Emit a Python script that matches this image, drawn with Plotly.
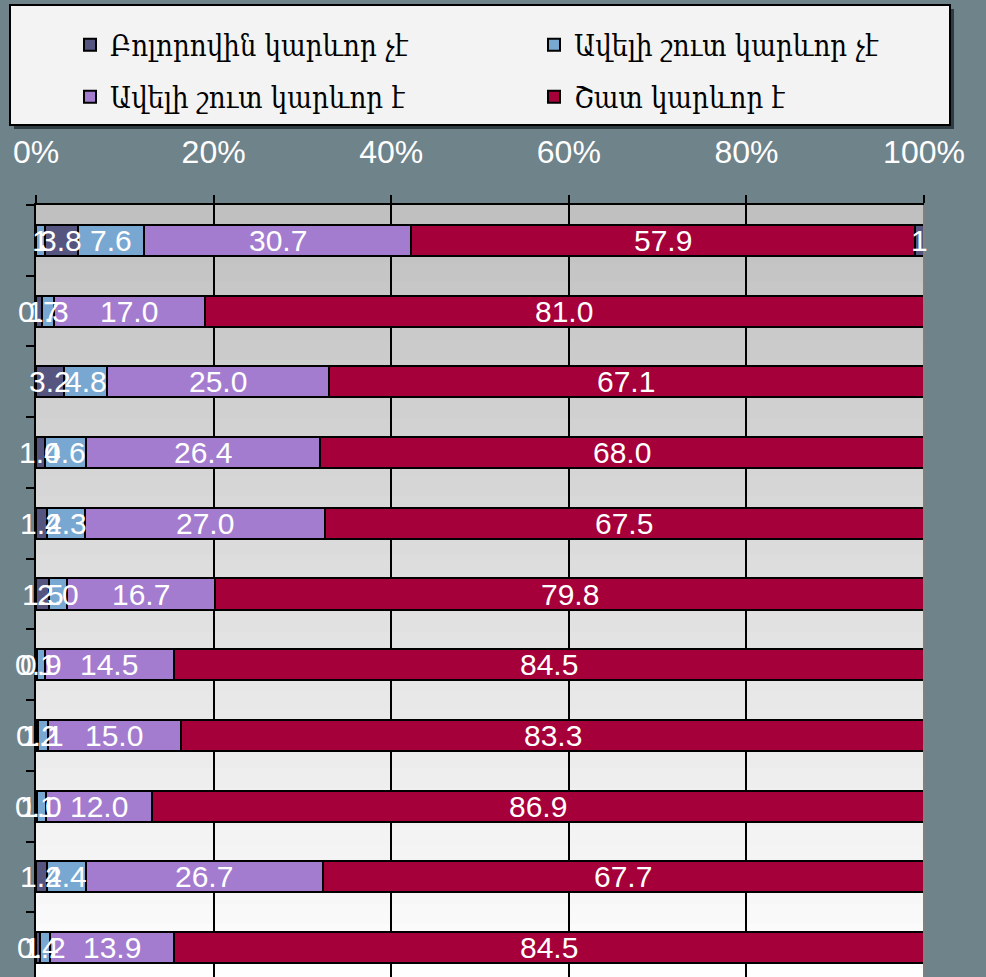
import plotly.graph_objects as go

# rows top -> bottom (category names are cut off in the source image)
categories = ["1", "2", "3", "4", "5", "6", "7", "8", "9", "10", "11"]

series_names = ["Բոլորովին կարևոր չէ", "Ավելի շուտ կարևոր չէ",
                "Ավելի շուտ կարևոր է", "Շատ կարևոր է"]

not_at_all = [3.8, 0.7, 3.2, 1.0, 1.2, 1.5, 0.1, 0.2, 0.1, 1.2, 0.4]
rather_not = [7.6, 1.3, 4.8, 4.6, 4.3, 2.0, 0.9, 1.1, 1.0, 4.4, 1.2]
rather_yes = [30.7, 17.0, 25.0, 26.4, 27.0, 16.7, 14.5, 15.0, 12.0, 26.7, 13.9]
very = [57.9, 81.0, 67.1, 68.0, 67.5, 79.8, 84.5, 83.3, 86.9, 67.7, 84.5]

# small extra segments only present in the first row
extra_first = [1, 0, 0, 0, 0, 0, 0, 0, 0, 0, 0]
extra_last = [1, 0, 0, 0, 0, 0, 0, 0, 0, 0, 0]

x_ticks = [0, 20, 40, 60, 80, 100]
x_tick_labels = ["0%", "20%", "40%", "60%", "80%", "100%"]

NAVY = "#55557f"
LIGHT_BLUE = "#78a8d2"
PURPLE = "#a47ccf"
RED = "#a5003a"
BG = "#6f838b"

# the plot runs a little past the bottom of the 977px window, as in the source
W, H = 986, 983
L, T, R, B = 36, 205, 62, 0


def px_x(p):
    return (p - L) / (W - L - R)


def px_y(p):
    return 1 + (T - p) / (H - T - B)


# stacking order left -> right, with the label format of each piece
stack = [
    (extra_first, LIGHT_BLUE, "", None, "{:.0f}"),
    (not_at_all, NAVY, series_names[0], "legend", "{:.1f}"),
    (rather_not, LIGHT_BLUE, series_names[1], "legend2", "{:.1f}"),
    (rather_yes, PURPLE, series_names[2], "legend3", "{:.1f}"),
    (very, RED, series_names[3], "legend4", "{:.1f}"),
    (extra_last, NAVY, "", None, "{:.0f}"),
]

fig = go.Figure()
for vals, color, name, leg, _ in stack:
    fig.add_trace(go.Bar(
        y=categories, x=vals, orientation="h", name=name,
        marker=dict(color=color, line=dict(color="black", width=2)),
        legend=leg or "legend", showlegend=leg is not None,
        hoverinfo="x+name",
    ))

# value labels on top of every segment (Excel draws them over the bars);
# y is given as the category index
annotations = []
for i in range(len(categories)):
    total = sum(s[0][i] for s in stack)
    cum = 0
    for vals, _, _, _, fmt in stack:
        v = vals[i]
        if v:
            annotations.append(dict(
                x=(cum + v / 2) / total * 100, y=i, xref="x", yref="y",
                text=fmt.format(v), showarrow=False,
                font=dict(family="Liberation Sans, Arial", size=30, color="white"),
            ))
        cum += v

# plot area background gradient (grey at top -> white at bottom)
shapes = []
n = 40
for i in range(n):
    c = int(192 + (255 - 192) * (i + 0.5) / n)
    shapes.append(dict(type="rect", xref="x domain", yref="y domain",
                       x0=0, x1=1, y0=1 - (i + 1) / n, y1=1 - i / n + 0.001,
                       fillcolor=f"rgb({c},{c},{c})", line=dict(width=0),
                       layer="below"))
# right border of the plot area
shapes.append(dict(type="line", xref="x domain", yref="y domain",
                   x0=1, x1=1, y0=0, y1=1, line=dict(color="#808080", width=2)))
# legend box with shadow
shapes.append(dict(type="rect", xref="paper", yref="paper",
                   x0=px_x(14), x1=px_x(954), y0=px_y(129), y1=px_y(9),
                   fillcolor="#2f3d42", line=dict(width=0)))
shapes.append(dict(type="rect", xref="paper", yref="paper",
                   x0=px_x(10), x1=px_x(950), y0=px_y(125), y1=px_y(5),
                   fillcolor="#f3f3f3", line=dict(color="black", width=2)))


def legend_at(x_px, y_px):
    return dict(
        orientation="h", xanchor="left", yanchor="middle",
        x=px_x(x_px), y=px_y(y_px), bgcolor="rgba(0,0,0,0)", borderwidth=0,
        font=dict(family="DejaVu Serif Condensed, DejaVu Serif, serif", size=29, color="black"),
    )


fig.update_layout(
    width=W, height=H,
    margin=dict(l=L, r=R, t=T, b=B, pad=0),
    paper_bgcolor=BG, plot_bgcolor="white",
    barmode="stack", barnorm="percent", bargap=0.56,
    shapes=shapes, annotations=annotations,
    legend=legend_at(70, 45),
    legend2=legend_at(534, 45),
    legend3=legend_at(70, 97),
    legend4=legend_at(534, 97),
    xaxis=dict(
        side="top", range=[0, 100], tickvals=x_ticks, ticktext=x_tick_labels,
        showgrid=True, gridcolor="black", gridwidth=2,
        showline=True, linecolor="black", linewidth=2,
        ticks="outside", ticklen=8, tickwidth=2, tickcolor="black",
        ticklabelstandoff=19,
        tickfont=dict(family="Liberation Sans, Arial", size=32, color="white"),
        zeroline=False, fixedrange=True,
    ),
    yaxis=dict(
        type="category", autorange="reversed", showticklabels=False,
        showline=True, linecolor="black", linewidth=2,
        ticks="outside", ticklen=8, tickwidth=2, tickcolor="black",
        tickson="boundaries", showgrid=False, fixedrange=True,
    ),
)

# drop the browser's default 8px body margin so the figure fills the window
fig.write_html("out.html", config={"displayModeBar": False},
               post_script="document.body.style.margin = '0';"
                           "document.body.style.overflow = 'hidden';")
